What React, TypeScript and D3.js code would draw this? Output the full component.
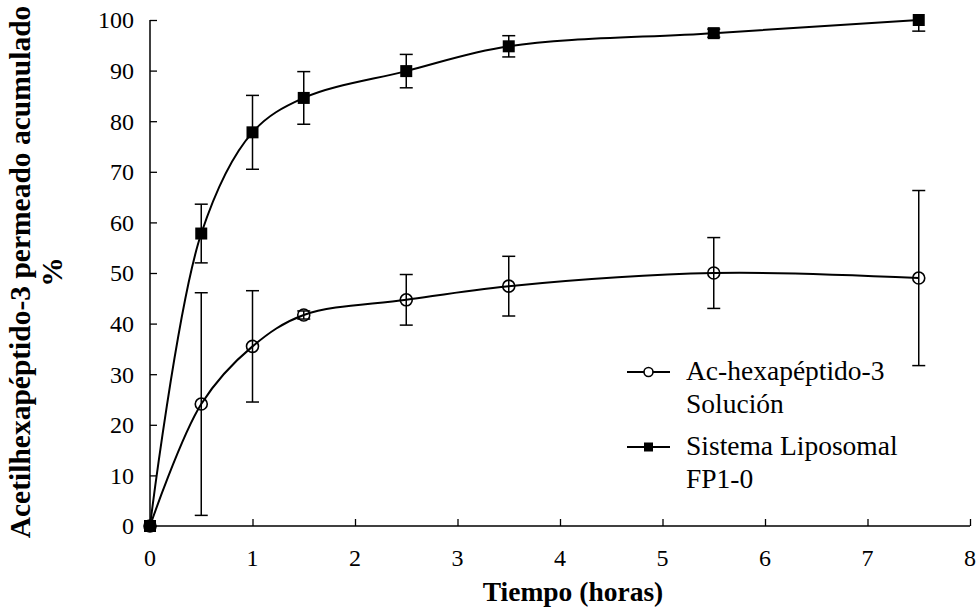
import React, { useEffect, useRef } from 'react';
import * as d3 from 'd3';

// Tiempo (horas)
const times = [0, 0.5, 1, 1.5, 2.5, 3.5, 5.5, 7.5];
// Ac-hexapéptido-3 Solución
const solucion = [0, 24.1, 35.5, 41.7, 44.7, 47.4, 50.0, 49.0];
const solucionErr = [0, 22, 11, 0.8, 5, 5.9, 7, 17.3];
// Sistema Liposomal FP1-0
const liposomal = [0, 57.8, 77.8, 84.6, 89.9, 94.8, 97.4, 100];
const liposomalErr = [0, 5.8, 7.3, 5.2, 3.3, 2.1, 0.8, 2.2];

const xTicks = [0, 1, 2, 3, 4, 5, 6, 7, 8];
const yTicks = [0, 10, 20, 30, 40, 50, 60, 70, 80, 90, 100];

const FONT = '"Liberation Serif", "Times New Roman", "DejaVu Serif", serif';

const App = () => {
  const ref = useRef<SVGSVGElement>(null);

  useEffect(() => {
    const svg = d3.select(ref.current);
    svg.selectAll('*').remove();

    const x = d3.scaleLinear().domain([0, 8]).range([150, 970]);
    const y = d3.scaleLinear().domain([0, 100]).range([526, 20]);

    // clip for error bars (Excel cuts them at the axis max)
    svg.append('clipPath').attr('id', 'plotclip')
      .append('rect').attr('x', 140).attr('y', y(100)).attr('width', 840).attr('height', y(0) - y(100) + 10);

    // axes
    const yAxis = svg.append('g').attr('transform', `translate(${x(0)},0)`)
      .call(d3.axisRight(y).tickValues(yTicks).tickSize(7).tickFormat(() => ''));
    yAxis.select('.domain').remove();
    yAxis.selectAll('line').attr('stroke', '#000').attr('stroke-width', 1.3);
    svg.append('line').attr('x1', x(0)).attr('x2', x(0)).attr('y1', y(100)).attr('y2', y(0))
      .attr('stroke', '#000').attr('stroke-width', 1.5);

    const xAxis = svg.append('g').attr('transform', `translate(0,${y(0)})`)
      .call(d3.axisTop(x).tickValues(xTicks).tickSize(7).tickFormat(() => ''));
    xAxis.select('.domain').remove();
    xAxis.selectAll('line').attr('stroke', '#000').attr('stroke-width', 1.3);
    svg.append('line').attr('x1', x(0)).attr('x2', x(8)).attr('y1', y(0)).attr('y2', y(0))
      .attr('stroke', '#000').attr('stroke-width', 1.5);

    // tick labels
    svg.append('g').selectAll('text').data(yTicks).enter().append('text')
      .attr('x', 134).attr('y', d => y(d)).attr('dy', '0.35em')
      .attr('text-anchor', 'end').style('font-family', FONT).style('font-size', '24px')
      .text(d => d);
    svg.append('g').selectAll('text').data(xTicks).enter().append('text')
      .attr('x', d => x(d)).attr('y', 566)
      .attr('text-anchor', 'middle').style('font-family', FONT).style('font-size', '24px')
      .text(d => d);

    // axis titles
    svg.append('text').attr('x', 573).attr('y', 601).attr('text-anchor', 'middle')
      .style('font-family', FONT).style('font-size', '27.5px').style('font-weight', 'bold')
      .text('Tiempo (horas)');
    const yt = svg.append('text').attr('transform', 'translate(0,272) rotate(-90)')
      .attr('text-anchor', 'middle')
      .style('font-family', FONT).style('font-size', '29.5px').style('font-weight', 'bold');
    yt.append('tspan').attr('x', 0).attr('y', 30).text('Acetilhexapéptido-3 permeado acumulado');
    yt.append('tspan').attr('x', 0).attr('y', 62).text('%');

    const line = d3.line<number>()
      .x((d, i) => x(times[i]))
      .y(d => y(d))
      .curve(d3.curveCatmullRom.alpha(0.5));

    const drawSeries = (vals: number[], errs: number[], kind: 'circle' | 'square') => {
      const g = svg.append('g');
      g.append('path').datum(vals).attr('d', line)
        .attr('fill', 'none').attr('stroke', '#000').attr('stroke-width', 2);

      const eb = g.append('g').attr('clip-path', 'url(#plotclip)');
      vals.forEach((v, i) => {
        if (!errs[i]) return;
        const cx = x(times[i]);
        const top = y(v + errs[i]);
        const bot = y(v - errs[i]);
        eb.append('line').attr('x1', cx).attr('x2', cx).attr('y1', top).attr('y2', bot)
          .attr('stroke', '#000').attr('stroke-width', 1.5);
        [top, bot].forEach(yy => {
          eb.append('line').attr('x1', cx - 6.5).attr('x2', cx + 6.5).attr('y1', yy).attr('y2', yy)
            .attr('stroke', '#000').attr('stroke-width', 1.5);
        });
      });

      vals.forEach((v, i) => {
        const cx = x(times[i]);
        if (kind === 'circle') {
          g.append('circle').attr('cx', cx).attr('cy', y(v)).attr('r', 6)
            .attr('fill', 'none').attr('stroke', '#000').attr('stroke-width', 1.6);
        } else {
          g.append('rect').attr('x', cx - 6).attr('y', y(v) - 6).attr('width', 12).attr('height', 12)
            .attr('fill', '#000');
        }
      });
    };

    drawSeries(solucion, solucionErr, 'circle');
    drawSeries(liposomal, liposomalErr, 'square');

    // legend
    const legend = svg.append('g');
    const items = [
      { kind: 'circle', lines: ['Ac-hexapéptido-3', 'Solución'], y: 372 },
      { kind: 'square', lines: ['Sistema Liposomal', 'FP1-0'], y: 447 },
    ];
    items.forEach(it => {
      legend.append('line').attr('x1', 627).attr('x2', 670).attr('y1', it.y).attr('y2', it.y)
        .attr('stroke', '#000').attr('stroke-width', 2);
      if (it.kind === 'circle') {
        legend.append('circle').attr('cx', 648.5).attr('cy', it.y).attr('r', 4.5)
          .attr('fill', '#fff').attr('stroke', '#000').attr('stroke-width', 1.6);
      } else {
        legend.append('rect').attr('x', 644).attr('y', it.y - 4.5).attr('width', 9).attr('height', 9)
          .attr('fill', '#000');
      }
      it.lines.forEach((t, j) => {
        legend.append('text').attr('x', 686).attr('y', it.y + 8 + j * 33)
          .style('font-family', FONT).style('font-size', '27.5px').text(t);
      });
    });
  }, []);

  return (
    <div style={{ position: 'absolute', left: 0, top: 0 }}>
      <svg ref={ref} width={978} height={611} style={{ display: 'block', background: '#fff' }} />
    </div>
  );
};

export default App;
